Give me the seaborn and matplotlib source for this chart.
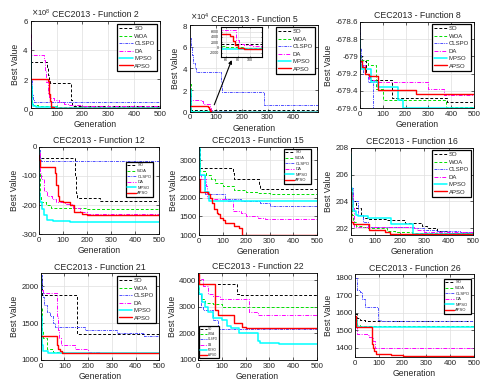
import matplotlib
matplotlib.use('Agg')
import matplotlib.pyplot as plt
import seaborn as sns
from matplotlib.ticker import FuncFormatter

# Convergence curves: {algorithm: (generations, best values)}
ALGS = ['SO', 'WOA', 'CLSPO', 'DA', 'MPSO', 'APSO']

f2 = {
    'SO': ([0, 3, 62, 66, 70, 75, 155, 158, 500], [3.6e8, 3.2e8, 2.8e8, 2.3e8, 1.9e8, 1.7e8, 0.6e8, 0.15e8, 0.15e8]),
    'WOA': ([0, 3, 6, 10, 30, 100, 500], [3.5e8, 1.5e8, 0.4e8, 0.2e8, 0.15e8, 0.1e8, 0.1e8]),
    'CLSPO': ([0, 3, 6, 10, 14, 500], [4.3e8, 2.0e8, 1.0e8, 0.55e8, 0.45e8, 0.45e8]),
    'DA': ([0, 2, 50, 55, 60, 66, 70, 75, 90, 110, 130, 150, 200, 500],
           [5.1e8, 3.65e8, 3.3e8, 2.6e8, 1.8e8, 1.0e8, 0.8e8, 0.7e8, 0.6e8, 0.45e8, 0.3e8, 0.2e8, 0.15e8, 0.15e8]),
    'MPSO': ([0, 2, 4, 8, 20, 100, 500], [3.7e8, 1.5e8, 0.3e8, 0.15e8, 0.1e8, 0.05e8, 0.05e8]),
    'APSO': ([0, 67, 72, 76, 80, 90, 500], [2.0e8, 1.9e8, 1.0e8, 0.5e8, 0.1e8, 0.05e8, 0.03e8]),
}

f5 = {
    'SO': ([0, 2, 5, 500], [15000, 3000, 1200, 1200]),
    'WOA': ([0, 2, 4, 8, 60, 90, 500], [26000, 8000, 2000, 500, 200, -200, -200]),
    'CLSPO': ([0, 3, 8, 12, 18, 25, 121, 124, 288, 500],
              [68000, 60000, 52000, 45000, 40000, 36500, 27000, 18500, 6500, 6500]),
    'DA': ([0, 3, 45, 50, 78, 82, 90, 105, 125, 150, 170, 500],
           [14000, 10500, 9500, 6700, 3000, 1200, 800, 500, 300, 0, -300, -300]),
    'MPSO': ([0, 2, 5, 500], [20000, 3000, -700, -700]),
    'APSO': ([0, 68, 72, 76, 80, 90, 500], [5000, 4500, 2500, 800, -300, -500, -500]),
}

f8 = {
    'SO': ([0, 10, 25, 45, 140, 380, 500], [-679.0, -679.05, -679.2, -679.27, -679.48, -679.53, -679.53]),
    'WOA': ([0, 5, 34, 72, 100, 375, 500], [-679.0, -679.04, -679.1, -679.38, -679.5, -679.58, -679.58]),
    'CLSPO': ([0, 2, 4, 15, 35, 55, 500], [-678.65, -678.9, -679.1, -679.2, -679.3, -679.595, -679.595]),
    'DA': ([0, 10, 20, 40, 60, 300, 370, 500], [-679.05, -679.1, -679.2, -679.27, -679.3, -679.38, -679.45, -679.45]),
    'MPSO': ([0, 1, 5, 50, 80, 165, 188, 500], [-678.8, -679.1, -679.15, -679.3, -679.35, -679.5, -679.595, -679.595]),
    'APSO': ([0, 10, 20, 40, 78, 245, 500], [-679.05, -679.12, -679.2, -679.23, -679.39, -679.44, -679.44]),
}

f12 = {
    'SO': ([0, 3, 150, 155, 160, 255, 500], [-30, -40, -100, -160, -175, -185, -185]),
    'WOA': ([0, 3, 6, 10, 30, 50, 200, 500], [-10, -120, -170, -190, -200, -210, -215, -215]),
    'CLSPO': ([0, 3, 8, 500], [-10, -40, -48, -48]),
    'DA': ([0, 3, 10, 20, 35, 55, 70, 110, 140, 170, 200, 500],
           [-20, -90, -110, -150, -170, -180, -190, -195, -210, -225, -230, -230]),
    'MPSO': ([0, 2, 6, 12, 20, 35, 60, 130, 500], [-10, -160, -190, -215, -235, -250, -255, -258, -258]),
    'APSO': ([0, 2, 5, 65, 70, 78, 85, 100, 130, 145, 180, 200, 500],
             [-30, -45, -70, -90, -130, -170, -185, -190, -200, -225, -230, -233, -233]),
}

f15 = {
    'SO': ([0, 3, 145, 150, 253, 260, 500], [3300, 2800, 2650, 2500, 2350, 2220, 2220]),
    'WOA': ([0, 5, 30, 50, 70, 100, 150, 200, 250, 300, 500],
            [3000, 2700, 2600, 2500, 2400, 2300, 2200, 2150, 2120, 2100, 2100]),
    'CLSPO': ([0, 27, 110, 180, 260, 300, 500], [2600, 2100, 1950, 1900, 1850, 1780, 1780]),
    'DA': ([0, 8, 30, 35, 50, 125, 143, 180, 200, 250, 280, 500],
           [2600, 2500, 2300, 2000, 1950, 1900, 1650, 1600, 1500, 1450, 1420, 1420]),
    'MPSO': ([0, 3, 25, 42, 500], [3360, 2600, 2150, 1900, 1900]),
    'APSO': ([0, 3, 40, 45, 55, 65, 75, 80, 90, 100, 110, 150, 170, 182, 500],
             [2500, 2150, 2100, 2000, 1850, 1700, 1600, 1550, 1450, 1400, 1330, 1250, 1200, 1005, 1005]),
}

f16 = {
    'SO': ([0, 5, 20, 40, 50, 70, 150, 220, 290, 310, 350, 400, 500],
           [205, 204, 203.5, 203, 202.8, 202.7, 202.6, 202.4, 202.2, 202.0, 201.8, 201.65, 201.65]),
    'WOA': ([0, 5, 10, 20, 50, 70, 150, 180, 250, 500],
            [204.5, 203, 202.5, 202.2, 202.1, 202.0, 201.8, 201.7, 201.65, 201.65]),
    'CLSPO': ([0, 10, 30, 50, 70, 250, 300, 350, 445, 500],
              [205, 204, 203, 202.5, 202.1, 202.0, 201.9, 201.8, 201.7, 201.7]),
    'DA': ([0, 10, 15, 260, 270, 300, 500], [204.5, 203.5, 202.1, 202.0, 201.9, 201.7, 201.7]),
    'MPSO': ([0, 2, 5, 10, 20, 30, 70, 100, 165, 255, 500],
             [207.5, 205, 204, 203.3, 203, 202.9, 202.8, 202.75, 202.3, 201.6, 201.6]),
    'APSO': ([0, 3, 10, 75, 140, 160, 500], [204.7, 202.5, 202.3, 201.9, 201.7, 201.55, 201.55]),
}

f21 = {
    'SO': ([0, 5, 155, 500], [2100, 1880, 1350, 1350]),
    'WOA': ([0, 3, 6, 10, 25, 50, 100, 500], [2150, 1700, 1400, 1300, 1150, 1110, 1100, 1100]),
    'CLSPO': ([0, 5, 10, 15, 25, 40, 50, 60, 185, 320, 435, 500],
              [2150, 1950, 1850, 1750, 1650, 1600, 1500, 1450, 1400, 1360, 1320, 1320]),
    'DA': ([0, 10, 70, 73, 77, 85, 145, 200, 250, 500], [1950, 1910, 1600, 1400, 1300, 1200, 1150, 1110, 1100, 1100]),
    'MPSO': ([0, 3, 6, 10, 30, 500], [2100, 1600, 1200, 1120, 1100, 1095]),
    'APSO': ([0, 67, 72, 80, 90, 500], [1330, 1200, 1150, 1120, 1100, 1100]),
}

f22 = {
    'SO': ([0, 165, 172, 500], [3850, 3500, 3450, 3450]),
    'WOA': ([0, 5, 10, 30, 60, 100, 500], [3900, 3500, 3300, 3150, 3100, 3000, 3000]),
    'CLSPO': ([0, 10, 20, 60, 85, 500], [3500, 3000, 2900, 2500, 2150, 2150]),
    'DA': ([0, 5, 20, 40, 60, 90, 212, 250, 500], [4250, 4050, 3800, 3500, 3400, 3300, 2800, 2700, 2700]),
    'MPSO': ([0, 5, 15, 30, 40, 60, 100, 120, 140, 170, 253, 260, 340, 500],
             [3800, 3500, 3200, 3000, 2800, 2600, 2500, 2300, 2200, 2000, 1700, 1650, 1600, 1600]),
    'APSO': ([0, 2, 70, 85, 150, 185, 200, 500], [4250, 3850, 2900, 2700, 2400, 2250, 2200, 2200]),
}

f26 = {
    'SO': ([0, 10, 20, 40, 500], [1590, 1570, 1560, 1550, 1550]),
    'WOA': ([0, 10, 20, 500], [1560, 1530, 1525, 1525]),
    'CLSPO': ([0, 10, 20, 30, 40, 97, 110, 500], [1800, 1730, 1720, 1680, 1630, 1560, 1552, 1552]),
    'DA': ([0, 10, 50, 60, 75, 85, 500], [1520, 1480, 1470, 1460, 1440, 1400, 1400]),
    'MPSO': ([0, 10, 500], [1560, 1520, 1515]),
    'APSO': ([0, 5, 70, 75, 80, 90, 100, 150, 200, 500], [1580, 1520, 1420, 1400, 1380, 1365, 1362, 1358, 1352, 1352]),
}

colors = {'SO': 'black', 'WOA': '#00e000', 'CLSPO': '#5050ff', 'DA': '#ff00ff', 'MPSO': '#00ffff', 'APSO': '#ff0000'}
styles = {'SO': (0, (3, 2)), 'WOA': (0, (3, 2)), 'CLSPO': (0, (3, 1, 1, 1)), 'DA': (0, (4, 1.5, 1, 1.5)),
          'MPSO': '-', 'APSO': '-'}
widths = {'SO': 0.7, 'WOA': 0.7, 'CLSPO': 0.7, 'DA': 0.7, 'MPSO': 1.1, 'APSO': 1.0}

W, H = 490, 387

# panel: data, number, axes box in px (left, top, right, bottom), ylim, yticks, legend (anchor px, loc, fontsize)
panels = [
    (f2, 2, (30.7, 20.7, 160, 108.3), (0, 6e8), [0, 2e8, 4e8, 6e8], ((156.7, 24), 'upper right', 4.3)),
    (f5, 5, (190, 25, 318, 111.7), (0, 8e4), [0, 2e4, 4e4, 6e4, 8e4], ((315, 27), 'upper right', 4.3)),
    (f8, 8, (360, 21.7, 474, 108.3), (-679.6, -678.6), [-679.6, -679.4, -679.2, -679.0, -678.8, -678.6],
     ((471, 24), 'upper right', 4.3)),
    (f12, 12, (39, 146.7, 159.3, 234.3), (-300, 0), [-300, -200, -100, 0], ((153, 162), 'upper right', 3.0)),
    (f15, 15, (199, 146.7, 316.7, 235), (1000, 3360), [1000, 1500, 2000, 2500, 3000], ((311, 149), 'upper right', 3.0)),
    (f16, 16, (350.7, 147.7, 473.3, 235), (201.5, 208), [202, 204, 206, 208], ((471, 150), 'upper right', 4.3)),
    (f21, 21, (40.7, 273.3, 159.3, 360), (1000, 2175), [1000, 1500, 2000], ((156, 276), 'upper right', 4.3)),
    (f22, 22, (198.3, 272.7, 316.7, 360), (1000, 4290), [1000, 2000, 3000, 4000], ((199, 358), 'lower left', 2.2)),
    (f26, 26, (355, 274, 474, 357.3), (1345, 1820), [1400, 1500, 1600, 1700, 1800], ((471, 279), 'upper right', 3.0)),
]

sns.set_theme(style='whitegrid', rc={
    'axes.edgecolor': 'black', 'axes.linewidth': 0.6, 'grid.color': '#dedede', 'grid.linewidth': 0.5,
    'xtick.direction': 'in', 'ytick.direction': 'in', 'xtick.bottom': True, 'ytick.left': True,
    'xtick.top': True, 'ytick.right': True, 'xtick.major.size': 2, 'ytick.major.size': 2,
    'xtick.major.width': 0.5, 'ytick.major.width': 0.5, 'xtick.major.pad': 2, 'ytick.major.pad': 1.5,
    'axes.unicode_minus': False,
})
plt.rcParams['font.family'] = ['Liberation Sans', 'DejaVu Sans']


def draw_curves(ax, data, legend=True):
    for alg in ALGS:
        g, v = data[alg]
        sns.lineplot(x=g, y=v, ax=ax, color=colors[alg], linestyle=styles[alg], linewidth=widths[alg],
                     drawstyle='steps-post', estimator=None, label=alg if legend else None, legend=False)


fig = plt.figure(figsize=(W / 100, H / 100), dpi=100)

for data, num, box, ylim, yticks, leg in panels:
    l, t, r, b = box
    ax = fig.add_axes([l / W, 1 - b / H, (r - l) / W, (b - t) / H])
    draw_curves(ax, data)
    xmax = 495 if num == 5 else 500
    ax.set_xlim(0, xmax)
    ax.set_xticks([0, 100, 200, 300, 400, 500] if num != 5 else [0, 100, 200, 300, 400])
    ax.set_ylim(*ylim)
    ax.set_yticks(yticks)
    if num in (2, 5):
        ax.ticklabel_format(style='sci', axis='y', scilimits=(0, 0), useMathText=True)
        ax.yaxis.get_offset_text().set_fontsize(5.5)
    else:
        ax.yaxis.set_major_formatter(FuncFormatter(lambda y, p: '%g' % round(y, 4)))
    ax.tick_params(labelsize=5.7)
    ax.set_title(f'CEC2013 - Function {num}', fontsize=6.3, pad=2.5)
    ax.set_xlabel('Generation', fontsize=6.2, labelpad=1.5)
    ax.set_ylabel('Best Value', fontsize=6.2, labelpad=1.5)
    for s in ax.spines.values():
        s.set_color('black')
        s.set_linewidth(0.6)

    (lx, ly), loc, fs = leg
    lg = ax.legend(loc=loc, bbox_to_anchor=(lx / W, 1 - ly / H), bbox_transform=fig.transFigure,
                   fontsize=fs, frameon=True, fancybox=False, framealpha=1, edgecolor='black',
                   borderpad=0.35, labelspacing=0.38, handlelength=2.2, handletextpad=0.3, borderaxespad=0)
    lg.get_frame().set_linewidth(0.9)

    if num == 5:
        # zoomed inset with arrow
        il, it, ir, ib = 220.7, 27.3, 261.7, 56.7
        ins = fig.add_axes([il / W, 1 - ib / H, (ir - il) / W, (ib - it) / H])
        draw_curves(ins, data, legend=False)
        ins.set_xlim(52, 120)
        ins.set_ylim(-3500, 7650)
        ins.set_xticks([60, 80, 100])
        ins.set_yticks([-2000, 0, 2000, 4000, 6000])
        ins.ticklabel_format(style='plain', axis='y')
        ins.tick_params(labelsize=2.6, length=1, pad=1)
        ins.set_xlabel('')
        ins.set_ylabel('')
        for s in ins.spines.values():
            s.set_color('black')
            s.set_linewidth(0.8)
        ax.annotate('', xy=(165, 50000), xytext=(90, 4000),
                    arrowprops=dict(arrowstyle='-|>', color='black', lw=0.8, mutation_scale=5))

fig.savefig('out.png', dpi=100)
